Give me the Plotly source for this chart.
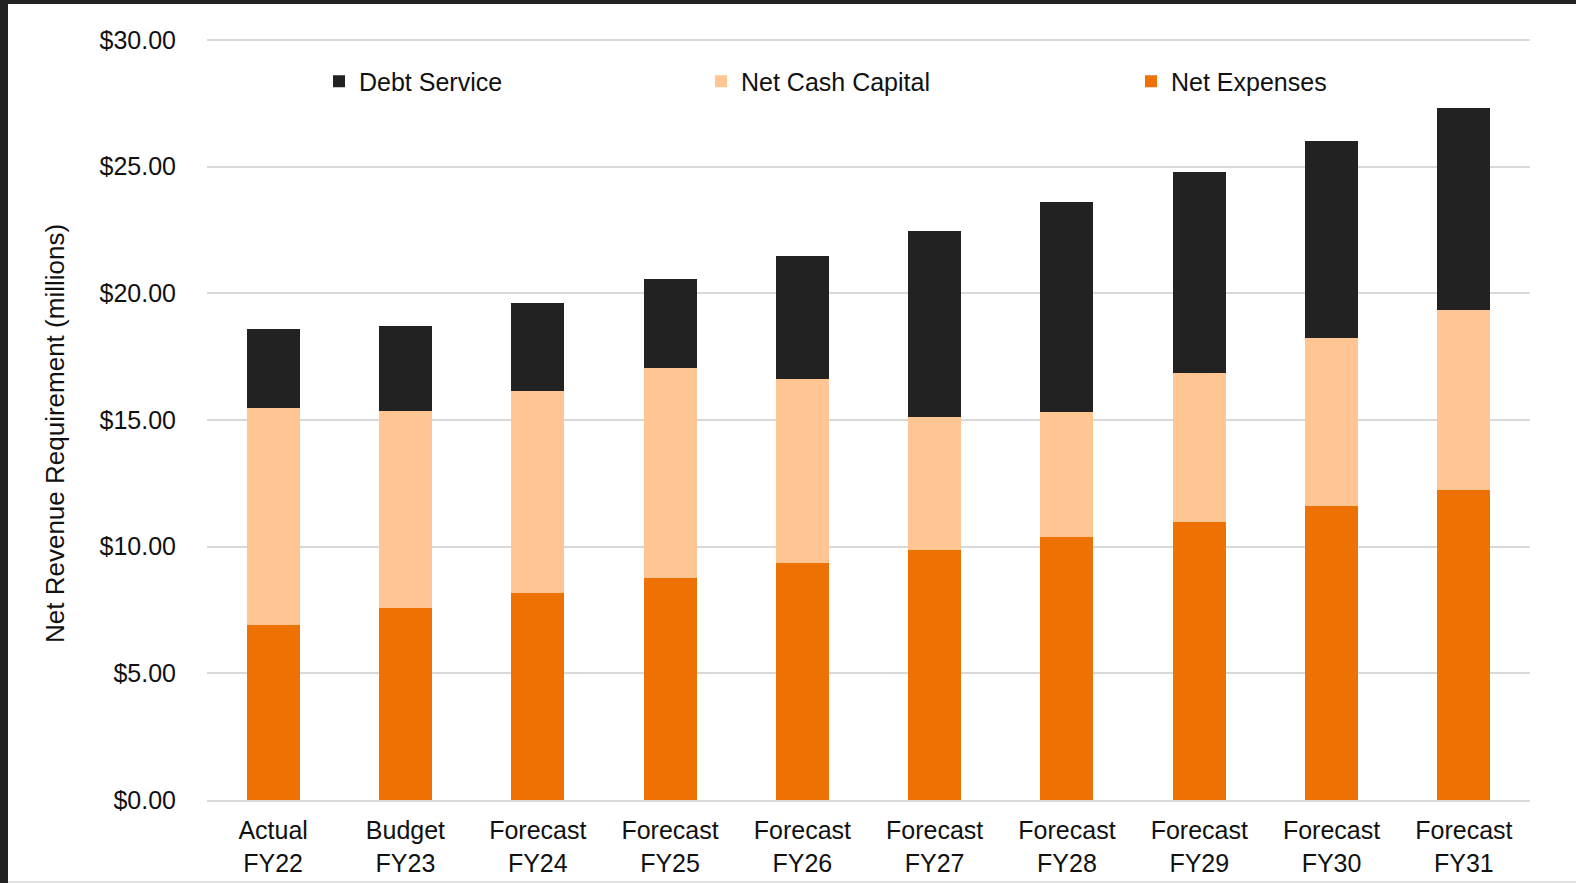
import plotly.graph_objects as go

categories = ["Actual<br>FY22", "Budget<br>FY23", "Forecast<br>FY24", "Forecast<br>FY25", "Forecast<br>FY26",
              "Forecast<br>FY27", "Forecast<br>FY28", "Forecast<br>FY29", "Forecast<br>FY30", "Forecast<br>FY31"]
net_expenses = [6.90, 7.58, 8.17, 8.77, 9.37, 9.88, 10.40, 10.99, 11.59, 12.22]
net_cash_capital = [8.58, 7.78, 7.98, 8.29, 7.26, 5.24, 4.92, 5.88, 6.66, 7.11]
debt_service = [3.13, 3.37, 3.45, 3.50, 4.84, 7.34, 8.29, 7.93, 7.78, 7.97]
y_ticks = [0, 5, 10, 15, 20, 25, 30]
y_tick_labels = ["$0.00", "$5.00", "$10.00", "$15.00", "$20.00", "$25.00", "$30.00"]
y_title = "Net Revenue Requirement (millions)"

FONT = "Liberation Sans, Arial, sans-serif"
TXT = "#111111"
W, H = 1576, 883
L, R, T, B = 207, 46, 38, 83
pw = W - L - R
ph = H - T - B

def px_x(px):
    return (px - L) / pw

def px_y(py):
    return (H - B - py) / ph

def leg(px):
    return dict(x=px_x(px), xanchor="left", y=px_y(81.5), yanchor="middle",
                bgcolor="rgba(0,0,0,0)", borderwidth=0,
                font=dict(family=FONT, size=25, color=TXT))

fig = go.Figure()
fig.add_trace(go.Bar(x=categories, y=net_expenses, name="Net Expenses", marker_color="#EE7203",
                     marker_line_width=0, legend="legend3"))
fig.add_trace(go.Bar(x=categories, y=net_cash_capital, name="Net Cash Capital", marker_color="#FFC593",
                     marker_line_width=0, legend="legend2"))
fig.add_trace(go.Bar(x=categories, y=debt_service, name="Debt Service", marker_color="#222222",
                     marker_line_width=0, legend="legend"))

fig.update_layout(
    width=W, height=H,
    margin=dict(l=L, r=R, t=T, b=B, autoexpand=False),
    barmode="stack", bargap=0.6,
    paper_bgcolor="white", plot_bgcolor="white",
    font=dict(family=FONT, size=25, color=TXT),
    showlegend=True,
    legend=leg(319),
    legend2=leg(701),
    legend3=leg(1131),
    xaxis=dict(showgrid=False, showline=True, linecolor="#d9d9d9", linewidth=2,
               ticks="", ticklabelstandoff=7, automargin=False,
               tickfont=dict(family=FONT, size=25, color=TXT)),
    yaxis=dict(range=[0, 30.08], tickvals=y_ticks, ticktext=y_tick_labels,
               showgrid=True, gridcolor="#d9d9d9", gridwidth=2, zeroline=False,
               ticks="", ticklabelstandoff=30, automargin=False,
               tickfont=dict(family=FONT, size=25, color=TXT)),
    annotations=[
        dict(text=y_title, textangle=-90, xref="paper", yref="paper",
             x=px_x(55), y=px_y(434), xanchor="center", yanchor="middle",
             showarrow=False, font=dict(family=FONT, size=26, color=TXT)),
    ],
    shapes=[
        dict(type="rect", xref="paper", yref="paper", x0=px_x(-10), x1=px_x(8),
             y0=px_y(H + 10), y1=px_y(-10), fillcolor="#222222", line_width=0, layer="below"),
        dict(type="rect", xref="paper", yref="paper", x0=px_x(-10), x1=px_x(W + 10),
             y0=px_y(4), y1=px_y(-10), fillcolor="#222222", line_width=0, layer="below"),
        dict(type="rect", xref="paper", yref="paper", x0=px_x(8), x1=px_x(W + 10),
             y0=px_y(H + 10), y1=px_y(881), fillcolor="#e3e3e3", line_width=0, layer="below"),
    ],
)
fig.write_html("out.html", config={"displayModeBar": False},
               post_script="document.body.style.margin='0';document.body.style.padding='0';"
                           "document.body.style.overflow='hidden';"
                           "document.documentElement.style.overflow='hidden';")
